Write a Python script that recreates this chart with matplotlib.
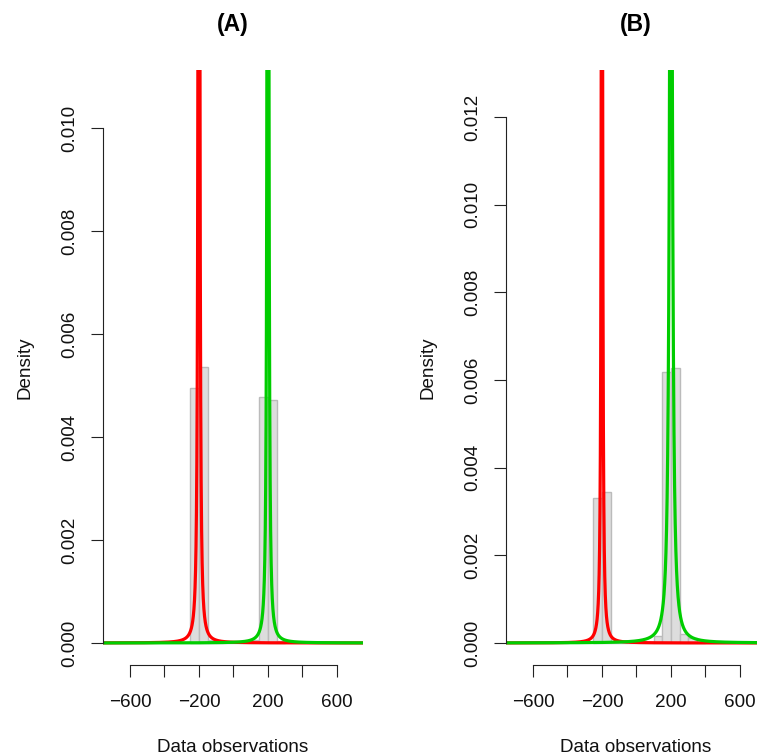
import numpy as np
import matplotlib
matplotlib.use('Agg')
import matplotlib.pyplot as plt

plt.rcParams['font.family'] = ['Liberation Sans', 'DejaVu Sans']

# ---- data ----
titles = ['(A)', '(B)']
xlabel = 'Data observations'
ylabel = 'Density'

edges_a = [-250, -200, -150, -100, -50, 0, 50, 100, 150, 200, 250, 300]
dens_a = [0.00495, 0.00535, 0.00006, 0.00003, 0.0, 0.0, 0.0, 0.00005, 0.00478, 0.00471, 0.00004]

edges_b = [-250, -200, -150, -100, -50, 0, 50, 100, 150, 200, 250, 300, 350, 400]
dens_b = [0.00330, 0.00344, 0.00003, 0.0, 0.0, 0.0, 0.00003, 0.00016, 0.00619, 0.00628,
          0.00020, 0.00012, 0.00003]

comp_locs = [-200, 200]
comp_scales_a = [3.5, 3.5]
comp_weights_a = [0.5, 0.5]
comp_scales_b = [4.0, 9.0]
comp_weights_b = [0.34, 0.66]
comp_colors = ['#FF0000', '#00CD00']

xticks = [-600, -400, -200, 0, 200, 400, 600]
xtick_labels = ['\u2212600', '', '\u2212200', '', '200', '', '600']
yticks_a = [0.000, 0.002, 0.004, 0.006, 0.008, 0.010]
yticks_b = [0.000, 0.002, 0.004, 0.006, 0.008, 0.010, 0.012]
ymax_a = 0.0107
ymax_b = 0.01257
xlim = (-756, 751)

# ---- figure ----
W, H = 757, 755
fig = plt.figure(figsize=(W / 100, H / 100), dpi=100)

def ax_rect(left_px, right_px, top_px, bottom_px):
    return [left_px / W, 1 - bottom_px / H, (right_px - left_px) / W, (bottom_px - top_px) / H]

panels = [
    dict(rect=ax_rect(103, 363, 70, 665), edges=edges_a, dens=dens_a,
         scales=comp_scales_a, weights=comp_weights_a, yticks=yticks_a, ymax=ymax_a, title=titles[0]),
    dict(rect=ax_rect(506, 766, 70, 665), edges=edges_b, dens=dens_b,
         scales=comp_scales_b, weights=comp_weights_b, yticks=yticks_b, ymax=ymax_b, title=titles[1]),
]

xs = np.linspace(-800, 800, 32001)
FS = 13.6

for p in panels:
    ax = fig.add_axes(p['rect'])
    edges = np.array(p['edges'], dtype=float)
    ax.bar(edges[:-1], p['dens'], width=np.diff(edges), align='edge',
           color='#DDDDDD', edgecolor='#BBBBBB', linewidth=1.0, zorder=1)
    for loc, sc, w, col in zip(comp_locs, p['scales'], p['weights'], comp_colors):
        ys = w / (np.pi * sc * (1 + ((xs - loc) / sc) ** 2))
        ax.plot(xs, ys, color=col, lw=2.3, zorder=2, solid_capstyle='butt')
    ax.set_xlim(*xlim)
    ymax = p['ymax']
    ax.set_ylim(-0.04 * ymax, 1.04 * ymax)

    for s in ['top', 'right']:
        ax.spines[s].set_visible(False)
    ax.spines['left'].set_bounds(p['yticks'][0], p['yticks'][-1])
    ax.spines['bottom'].set_bounds(xticks[0], xticks[-1])
    for s in ['left', 'bottom']:
        ax.spines[s].set_color('#222222')
        ax.spines[s].set_linewidth(0.8)

    ax.set_xticks(xticks)
    ax.set_xticklabels(xtick_labels)
    ax.set_yticks(p['yticks'])
    ax.set_yticklabels(['%.3f' % v for v in p['yticks']])
    ax.tick_params(axis='both', direction='out', length=8.6, width=0.8, color='#222222',
                   labelsize=FS, labelcolor='#111111')
    ax.tick_params(axis='x', pad=12)
    ax.tick_params(axis='y', pad=9.5, labelrotation=90)
    for lab in ax.get_yticklabels():
        lab.set_va('center')
        lab.set_ha('right')
    ax.patch.set_visible(False)

    l, b, w_, h_ = p['rect']
    cx = l + w_ / 2
    fig.text(cx, 1 - 25 / H, p['title'], ha='center', va='center',
             fontsize=16.5, fontweight='bold')
    fig.text(cx, 1 - 747 / H, xlabel, ha='center', va='center', fontsize=FS, color='#111111')
    fig.text(l - 78 / W, b + h_ / 2, ylabel, ha='center', va='center', rotation=90,
             fontsize=FS, color='#111111')

fig.savefig('out.png', dpi=100)
